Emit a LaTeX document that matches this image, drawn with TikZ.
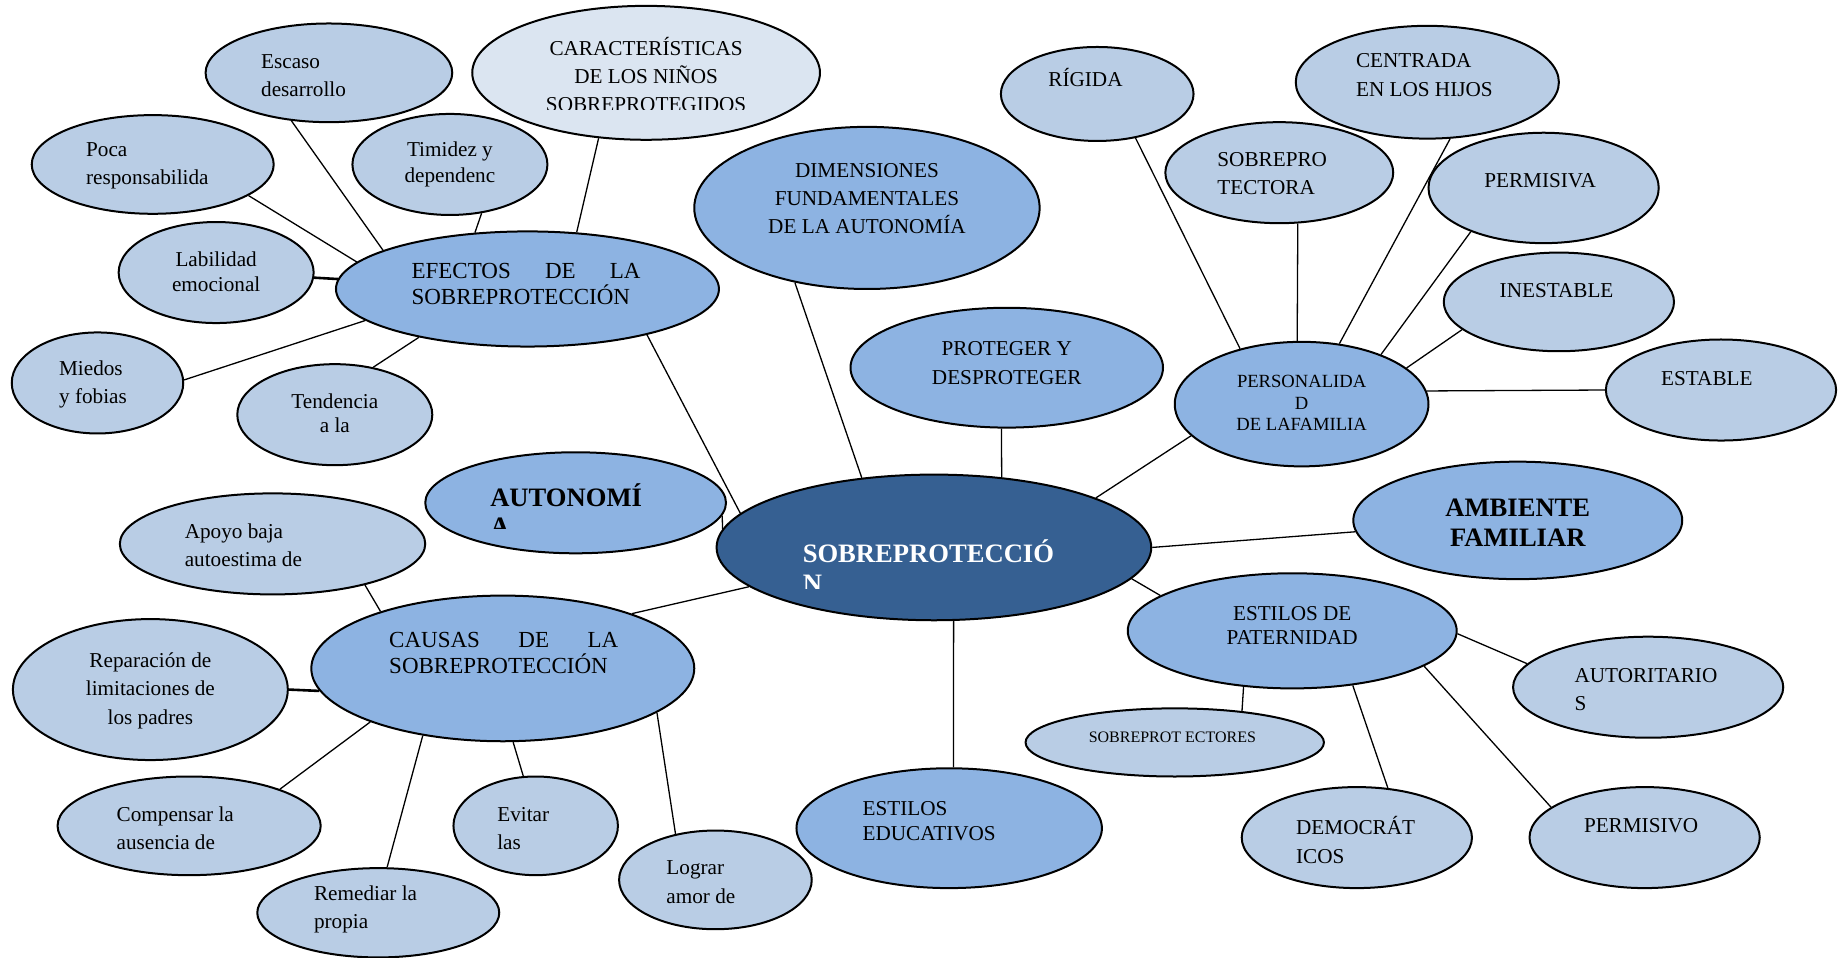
\documentclass[tikz,border=0pt]{standalone}
\usepackage{fontspec}
\setmainfont{Liberation Serif}
\usetikzlibrary{shapes.geometric}
\definecolor{cLight}{RGB}{185,205,229}
\definecolor{cMid}{RGB}{141,179,226}
\definecolor{cPale}{RGB}{219,229,241}
\definecolor{cDark}{RGB}{54,96,146}
\begin{document}
\begin{tikzpicture}[x=0.5874pt, y=-0.5874pt,
  bub/.style 2 args={ellipse, draw=black, line width=1pt, inner sep=0pt,
    minimum width=#1*1.1748pt, minimum height=#2*1.1748pt},
  lt/.style={fill=cLight}, md/.style={fill=cMid}, pl/.style={fill=cPale}, dk/.style={fill=cDark},
  txt/.style={inner sep=0pt, align=left, font=\fontsize{10.6}{14.1}\selectfont},
  txtc/.style={txt, align=center},
  txtj/.style={inner sep=0pt, align=left, font=\fontsize{11.5}{12.8}\selectfont},
  txtb/.style={inner sep=0pt, align=left, font=\fontsize{13.3}{14.3}\selectfont\bfseries},
  link/.style={line width=0.65pt},
  thk/.style={line width=1.3pt}]
\fill[white] (0,0) rectangle (1568,815);
\useasboundingbox (0,0) rectangle (1568,815);

% ---------- ellipses ----------
\node[bub={105}{42}, lt] (escaso) at (280,62) {};
\node[bub={148}{57}, pl] (carac) at (550,62) {};
\node[bub={103}{42}, lt] (poca) at (130,140) {};
\node[bub={83}{43}, lt] (timidez) at (383,140) {};
\node[bub={83}{43}, lt] (labil) at (184,232) {};
\node[bub={163}{49}, md] (efectos) at (449,246) {};
\node[bub={73}{43}, lt] (miedos) at (83,326) {};
\node[bub={83}{43}, lt] (tend) at (285,353) {};
\node[bub={147}{69}, md] (dimen) at (738,177) {};
\node[bub={82}{40}, lt] (rigida) at (934,80) {};
\node[bub={112}{48}, lt] (centrada) at (1215,70) {};
\node[bub={97}{43}, lt] (sobrepro) at (1089,147) {};
\node[bub={98}{47}, lt] (permisiva) at (1314,160) {};
\node[bub={98}{42}, lt] (inestable) at (1327,257) {};
\node[bub={98}{43}, lt] (estable) at (1465,332) {};
\node[bub={133}{51}, md] (proteger) at (857,313) {};
\node[bub={108}{53}, md] (person) at (1108,344) {};
\node[bub={128}{43}, md] (auton) at (490,428) {};
\node[bub={185}{62}, dk] (sobre) at (795,466) {};
\node[bub={140}{50}, md] (ambiente) at (1292,443) {};
\node[bub={130}{43}, lt] (apoyo) at (232,463) {};
\node[bub={163}{62}, md] (causas) at (428,569) {};
\node[bub={117}{60}, lt] (repar) at (128,587) {};
\node[bub={112}{42}, lt] (compen) at (161,703) {};
\node[bub={103}{38}, lt] (remed) at (322,777) {};
\node[bub={70}{42}, lt] (evitar) at (456,703) {};
\node[bub={82}{42}, lt] (lograr) at (609,749) {};
\node[bub={130}{51}, md] (educ) at (808,705) {};
\node[bub={140}{49}, md] (patern) at (1100,537) {};
\node[bub={115}{43}, lt] (autor) at (1403,585) {};
\node[bub={127}{29}, lt] (sobreprot) at (1000,632) {};
\node[bub={98}{43}, lt] (democ) at (1155,713) {};
\node[bub={98}{43}, lt] (permisivo) at (1400,713) {};

% ---------- texts ----------
\node[txt, anchor=west] (escasoT) at (222,64.5) {Escaso\\desarrollo};
\begin{scope}
  \clip (400,0) rectangle (700,93.6);
  \node[txtc, font=\fontsize{10.6}{13.8}\selectfont] (caracT) at (550,63.5) {CARACTERÍSTICAS\\DE LOS NIÑOS\\SOBREPROTEGIDOS};
\end{scope}
\node[txt, anchor=west] (pocaT) at (73,141) {Poca\\responsabilida};
\node[txtc, font=\fontsize{10.6}{12.9}\selectfont] (timidezT) at (383,140) {Timidez y\\dependenc};
\node[txtc, font=\fontsize{10.6}{12.4}\selectfont] (labilT) at (184,231.5) {Labilidad\\emocional};
\node[txtj, anchor=west] (efectosT) at (350,242) {\makebox[114.5pt][s]{EFECTOS\hfill DE\hfill LA}\\SOBREPROTECCIÓN};
\node[txt, anchor=west] (miedosT) at (50,327) {Miedos\\y fobias};
\node[txtc, font=\fontsize{10.6}{11.8}\selectfont] (tendT) at (285,352) {Tendencia\\a la};
\node[txtc] (dimenT) at (738,169) {DIMENSIONES\\FUNDAMENTALES\\DE LA AUTONOMÍA};
\node[txtc] (rigidaT) at (924,66) {RÍGIDA};
\node[txt, anchor=west] (centradaT) at (1154,64) {CENTRADA\\EN LOS HIJOS};
\node[txt, anchor=west] (sobreproT) at (1036,148) {SOBREPRO\\TECTORA};
\node[txtc] (permisivaT) at (1311,154) {PERMISIVA};
\node[txtc] (inestableT) at (1325,247) {INESTABLE};
\node[txtc] (estableT) at (1453,322) {ESTABLE};
\node[txtc] (protegerT) at (857,309) {PROTEGER Y\\DESPROTEGER};
\node[txtc, font=\fontsize{9.3}{10.6}\selectfont] (personT) at (1108,343) {PERSONALIDA\\D\\DE LAFAMILIA};
\begin{scope}
  \clip (400,400) rectangle (600,449.5);
  \node[txtb, anchor=west] (autonT) at (417,434) {AUTONOMÍ\\A};
\end{scope}
\begin{scope}
  \clip (650,440) rectangle (950,500.6);
  \node[txtb, anchor=west, text=white, font=\fontsize{13.3}{14.8}\selectfont\bfseries] (sobreT) at (683,481.7) {SOBREPROTECCIÓ\\N};
\end{scope}
\node[txtb, align=center, font=\fontsize{13.3}{15.3}\selectfont\bfseries] (ambienteT) at (1292,445) {AMBIENTE\\FAMILIAR};
\node[txt, anchor=west] (apoyoT) at (157,464) {Apoyo baja\\autoestima de};
\node[txtj, anchor=west] (causasT) at (331,556) {\makebox[114.5pt][s]{CAUSAS\hfill DE\hfill LA}\\SOBREPROTECCIÓN};
\node[txtc] (reparT) at (128,588) {Reparación de\\limitaciones de\\los padres};
\node[txt, anchor=west] (compenT) at (99,705) {Compensar la\\ausencia de};
\node[txt, anchor=west] (remedT) at (267,774) {Remediar la\\propia};
\node[txt, anchor=west] (evitarT) at (423,705) {Evitar\\las};
\node[txt, anchor=west] (lograrT) at (567,751) {Lograr\\amor de};
\node[txt, anchor=west, font=\fontsize{10.6}{12.9}\selectfont] (educT) at (734,699) {ESTILOS\\EDUCATIVOS};
\node[txtc, font=\fontsize{10.6}{12.4}\selectfont] (paternT) at (1100,532.5) {ESTILOS DE\\PATERNIDAD};
\node[txt, anchor=west] (autorT) at (1340,587) {AUTORITARIO\\S};
\node[txtc, font=\fontsize{8}{9}\selectfont] (sobreprotT) at (998,628) {SOBREPROT ECTORES};
\node[txt, anchor=west] (democT) at (1103,715) {DEMOCRÁT\\ICOS};
\node[txtc] (permisivoT) at (1397,703) {PERMISIVO};

% ---------- connectors ----------
\draw[link] (escaso.-128) -- (efectos.165);
\draw[link] (poca.-18) -- (efectos.171);
\draw[link] (timidez.-57) -- (efectos.133);
\draw[link] (carac.-126) -- (efectos.49);
\draw[thk] (labil.-3) -- (efectos.177);
\draw[link] (miedos.2) -- (efectos.-169);
\draw[link] (tend.51) -- (efectos.-156);
\draw[link] (efectos.-21) -- (sobre.170);
\draw[link] (dimen.-134) -- (sobre.136);
\draw[link] (proteger.-95.6) -- (sobre.46.5);
\draw[link] (person.-164) -- (sobre.17);
\draw[link] (auton.-5.5) -- (sobre.175);
\draw[link] (ambiente.-176) -- (sobre.0.6);
\draw[link] (causas.23) -- (sobre.-168);
\draw[link] (patern.165) -- (sobre.-9.3);
\draw[link] (educ.86.6) -- (sobre.-75.3);

\draw[link] (rigida.-49) -- (person.138);
\draw[link] (sobrepro.-70.8) -- (person.94.3);
\draw[link] (centrada.-68) -- (person.58);
\draw[link] (permisiva.-149) -- (person.32);
\draw[link] (inestable.-164) -- (person.19);
\draw[link] (estable.180) -- (person.6.3);

\draw[link] (apoyo.-24.5) -- (causas.155);
\draw[thk] (repar.0) -- (causas.-173.5);
\draw[link] (compen.22) -- (causas.-158);
\draw[link] (remed.79) -- (causas.-140);
\draw[link] (evitar.104) -- (causas.-82.6);
\draw[link] (lograr.131) -- (causas.-16.6);

\draw[link] (autor.169.5) -- (patern.-1.6);
\draw[link] (sobreprot.25) -- (patern.-131);
\draw[link] (democ.58.6) -- (patern.-42);
\draw[link] (permisivo.162.5) -- (patern.-15.4);
\end{tikzpicture}
\end{document}
